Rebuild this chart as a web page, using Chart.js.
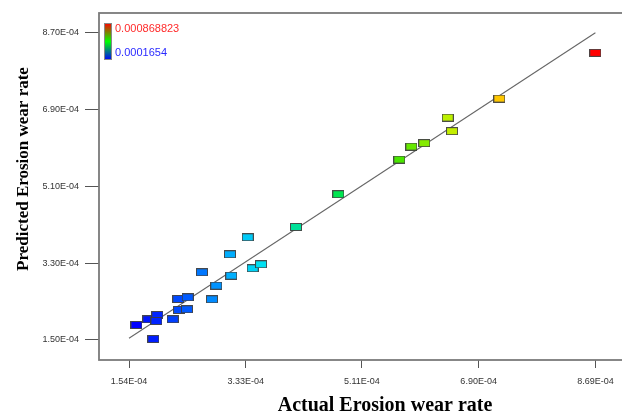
<!DOCTYPE html>
<html>
<head>
<meta charset="utf-8">
<script src="https://cdn.jsdelivr.net/npm/chart.js@4.4.1/dist/chart.umd.min.js"></script>
<style>
html, body { margin: 0; padding: 0; background: #fff; overflow: hidden; }
#wrap { width: 622px; height: 414px; overflow: hidden; }
</style>
</head>
<body>
<div id="wrap"><canvas id="graficoErosao" width="686" height="414"></canvas></div>
<script>
// valores (taxa de desgaste por erosao)
const actual = [1.654e-4, 1.836e-4, 1.974e-4, 1.960e-4, 1.913e-4, 2.210e-4, 2.296e-4, 2.440e-4, 2.307e-4,
  2.429e-4, 2.812e-4, 2.878e-4, 2.659e-4, 3.088e-4, 3.108e-4, 3.360e-4, 3.436e-4, 3.564e-4, 4.100e-4,
  4.749e-4, 5.684e-4, 5.868e-4, 6.067e-4, 6.426e-4, 6.492e-4, 7.217e-4, 8.688e-4];
const predicted = [1.851e-4, 1.985e-4, 2.085e-4, 1.945e-4, 1.523e-4, 1.985e-4, 2.460e-4, 2.500e-4, 2.202e-4,
  2.219e-4, 2.453e-4, 2.771e-4, 3.085e-4, 3.506e-4, 3.005e-4, 3.904e-4, 3.178e-4, 3.272e-4, 4.145e-4,
  4.911e-4, 5.721e-4, 6.025e-4, 6.105e-4, 6.704e-4, 6.386e-4, 7.149e-4, 8.219e-4];
const xTickValues = [1.54e-4, 3.33e-4, 5.11e-4, 6.90e-4, 8.69e-4];
const xTickLabels = ['1.54E-04', '3.33E-04', '5.11E-04', '6.90E-04', '8.69E-04'];
const yTickValues = [1.50e-4, 3.30e-4, 5.10e-4, 6.90e-4, 8.70e-4];
const yTickLabels = ['1.50E-04', '3.30E-04', '5.10E-04', '6.90E-04', '8.70E-04'];
const legendMax = '0.000868823';
const legendMin = '0.0001654';
const xTitle = 'Actual Erosion wear rate';
const yTitle = 'Predicted Erosion wear rate';

// escala de cores azul -> ciano -> verde -> amarelo -> vermelho
const colorStops = [
  [0.00, [0, 0, 255]], [0.10, [0, 80, 255]], [0.20, [0, 170, 255]], [0.28, [0, 230, 240]],
  [0.35, [0, 225, 150]], [0.44, [0, 230, 80]], [0.57, [70, 230, 0]], [0.68, [190, 240, 0]],
  [0.79, [255, 200, 0]], [1.00, [255, 0, 0]]
];
function colorAt(t) {
  for (let i = 1; i < colorStops.length; i++) {
    const [t1, c1] = colorStops[i];
    const [t0, c0] = colorStops[i - 1];
    if (t <= t1) {
      const f = (t - t0) / (t1 - t0);
      const c = c0.map((v, k) => Math.round(v + (c1[k] - v) * f));
      return `rgb(${c[0]},${c[1]},${c[2]})`;
    }
  }
  return 'rgb(255,0,0)';
}

function makeMarker(color) {
  const c = document.createElement('canvas');
  c.width = 12; c.height = 8;
  const g = c.getContext('2d');
  g.fillStyle = color;
  g.fillRect(0.5, 0.5, 11, 7);
  g.strokeStyle = 'rgba(60,60,60,0.9)';
  g.lineWidth = 1;
  g.strokeRect(0.5, 0.5, 11, 7);
  return c;
}

const vMin = Math.min(...actual);
const vMax = Math.max(...actual);
const markers = actual.map(v => makeMarker(colorAt((v - vMin) / (vMax - vMin))));

const molduraPlugin = {
  id: 'moldura',
  afterDraw(chart) {
    const { ctx, chartArea: a } = chart;
    ctx.save();
    ctx.strokeStyle = '#7a7a7a';
    ctx.lineWidth = 1.8;
    ctx.strokeRect(a.left, a.top, a.right - a.left, a.bottom - a.top);

    // legenda de cores
    const bx = a.left + 5, by = a.top + 10, bw = 8, bh = 37;
    const grad = ctx.createLinearGradient(0, by, 0, by + bh);
    grad.addColorStop(0, 'rgb(255,0,0)');
    grad.addColorStop(0.5, 'rgb(0,255,0)');
    grad.addColorStop(1, 'rgb(0,0,255)');
    ctx.fillStyle = grad;
    ctx.fillRect(bx, by, bw, bh);
    ctx.strokeStyle = '#888';
    ctx.lineWidth = 1;
    ctx.strokeRect(bx + 0.5, by + 0.5, bw - 1, bh - 1);
    ctx.font = "11px 'Liberation Sans', Arial, sans-serif";
    ctx.textBaseline = 'middle';
    ctx.fillStyle = '#ff2a2a';
    ctx.fillText(legendMax, bx + 11, by + 6);
    ctx.fillStyle = '#2a2aff';
    ctx.fillText(legendMin, bx + 11, by + 30);

    // titulo do eixo y
    ctx.translate(24, 169);
    ctx.rotate(-Math.PI / 2);
    ctx.font = "bold 17px 'Liberation Serif', 'Times New Roman', serif";
    ctx.fillStyle = '#000';
    ctx.textAlign = 'center';
    ctx.textBaseline = 'middle';
    ctx.fillText(yTitle, 0, 0);
    ctx.restore();
  }
};

const tickFont = { family: "'Liberation Sans', Arial, sans-serif", size: 9 };

const ctx = document.getElementById('graficoErosao').getContext('2d');

new Chart(ctx, {
  type: 'scatter',
  data: {
    datasets: [
      {
        data: actual.map((v, i) => ({ x: v, y: predicted[i] })),
        pointStyle: markers,
        pointRadius: 6,
        order: 1
      },
      {
        data: [
          { x: xTickValues[0], y: xTickValues[0] },
          { x: xTickValues[xTickValues.length - 1], y: xTickValues[xTickValues.length - 1] }
        ],
        showLine: true,
        borderColor: '#666',
        borderWidth: 1.1,
        pointRadius: 0,
        order: 2
      }
    ]
  },
  options: {
    responsive: false,
    animation: false,
    events: [],
    layout: { padding: { top: 13, right: 15, left: 0, bottom: 0 } },
    plugins: {
      legend: { display: false },
      tooltip: { enabled: false }
    },
    scales: {
      x: {
        type: 'linear',
        min: 1.080e-4,
        max: 9.849e-4,
        afterBuildTicks: s => { s.ticks = xTickValues.map(v => ({ value: v })); },
        afterFit: s => { s.height = 54; },
        border: { display: false },
        grid: { drawOnChartArea: false, drawTicks: true, tickLength: 8, color: '#555', lineWidth: 1 },
        ticks: {
          autoSkip: false, maxRotation: 0, padding: 8,
          color: '#333', font: tickFont,
          callback: (v, i) => xTickLabels[i]
        },
        title: {
          display: true, text: xTitle, color: '#000',
          font: { family: "'Liberation Serif', 'Times New Roman', serif", size: 20, weight: 'bold', lineHeight: 1 },
          padding: { top: 0, bottom: -2 }
        }
      },
      y: {
        type: 'linear',
        min: 1.032e-4,
        max: 9.151e-4,
        afterBuildTicks: s => { s.ticks = yTickValues.map(v => ({ value: v })); },
        afterFit: s => { s.width = 99; },
        border: { display: false },
        grid: { drawOnChartArea: false, drawTicks: true, tickLength: 14, color: '#555', lineWidth: 1 },
        ticks: {
          autoSkip: false, padding: 6,
          color: '#333', font: tickFont,
          callback: (v, i) => yTickLabels[i]
        },
        title: { display: false }
      }
    }
  },
  plugins: [molduraPlugin]
});
</script>
</body>
</html>
